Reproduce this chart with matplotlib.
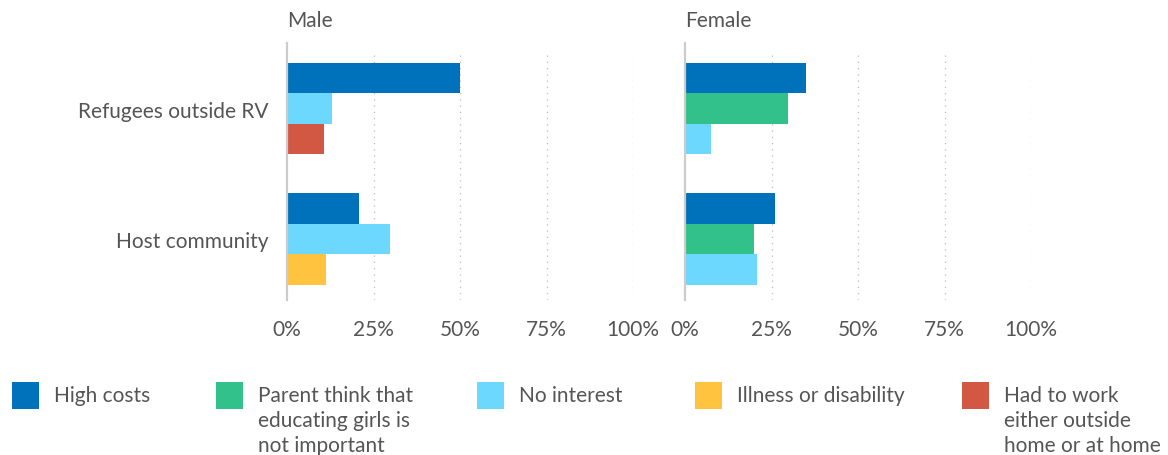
import numpy as np
import matplotlib

matplotlib.use("Agg")

import matplotlib.pyplot as plt  # noqa: E402
from matplotlib.patches import Rectangle  # noqa: E402

plt.rcParams["font.family"] = ["Lato", "DejaVu Sans"]

# data (percent), nan = not reported
categories = ["Refugees outside RV", "Host community"]
series = [
    "High costs",
    "Parent think that\neducating girls is\nnot important",
    "No interest",
    "Illness or disability",
    "Had to work\neither outside\nhome or at home",
]
colors = ["#0072BC", "#32C18A", "#6CD8FE", "#FFC43F", "#D35843"]

male_high_costs = [50.1, 20.7]
male_parent = [np.nan, np.nan]
male_no_interest = [13.1, 29.9]
male_illness = [np.nan, 11.4]
male_work = [10.8, np.nan]

female_high_costs = [35.0, 26.1]
female_parent = [29.8, 20.0]
female_no_interest = [7.6, 20.8]
female_illness = [np.nan, np.nan]
female_work = [np.nan, np.nan]

panels = [
    ("Male", [male_high_costs, male_parent, male_no_interest, male_illness, male_work]),
    ("Female", [female_high_costs, female_parent, female_no_interest, female_illness, female_work]),
]
xticks = [0, 25, 50, 75, 100]

TEXT = "#555555"
W, H = 1168, 456
fig = plt.figure(figsize=(W / 100, H / 100), dpi=100)

bar_h = 0.234
lefts = [287, 685]
for (title, values), left in zip(panels, lefts):
    ax = fig.add_axes([left / W, 1 - 301 / H, 346 / W, 257 / H])
    for ci in range(len(categories)):
        shown = [si for si in range(len(series)) if not np.isnan(values[si][ci])]
        for slot, si in enumerate(shown):
            y = ci + (slot - (len(shown) - 1) / 2) * bar_h
            ax.barh(y, values[si][ci], height=bar_h, color=colors[si], linewidth=0)
    ax.set_xlim(0, 100)
    ax.set_ylim(1.467, -0.502)
    for t in xticks[1:]:
        ax.axvline(t, ymin=0, ymax=0.965, color="#bbbbbb", linestyle=(0, (1, 4)), linewidth=0.9, zorder=0)
    for side in ["top", "right", "bottom"]:
        ax.spines[side].set_visible(False)
    ax.spines["left"].set_color("#cccccc")
    ax.spines["left"].set_linewidth(1.6)
    ax.set_xticks(xticks)
    ax.set_xticklabels([f"{t}%" for t in xticks])
    ax.tick_params(axis="x", length=0, pad=14, labelsize=15, labelcolor=TEXT)
    ax.set_yticks(range(len(categories)))
    if left == lefts[0]:
        ax.set_yticklabels(categories)
        for lbl in ax.get_yticklabels():
            lbl.set_verticalalignment("center_baseline")
    else:
        ax.set_yticklabels([])
    ax.tick_params(axis="y", length=0, pad=13, labelsize=15, labelcolor=TEXT)
    ax.patch.set_alpha(0)
    fig.text(left / W, 1 - 21 / H, title, fontsize=15, color=TEXT, ha="left", va="center")

# legend drawn by hand
legend_x = [12, 216, 477, 695, 962]
for x, label, color in zip(legend_x, series, colors):
    fig.add_artist(Rectangle((x / W, 1 - 410 / H), 27 / W, 27 / H, transform=fig.transFigure,
                             facecolor=color, edgecolor="none"))
    fig.text((x + 42) / W, 1 - 386 / H, label, fontsize=15, color=TEXT, ha="left", va="top",
             linespacing=1.3)

fig.savefig("out.png", dpi=100)
